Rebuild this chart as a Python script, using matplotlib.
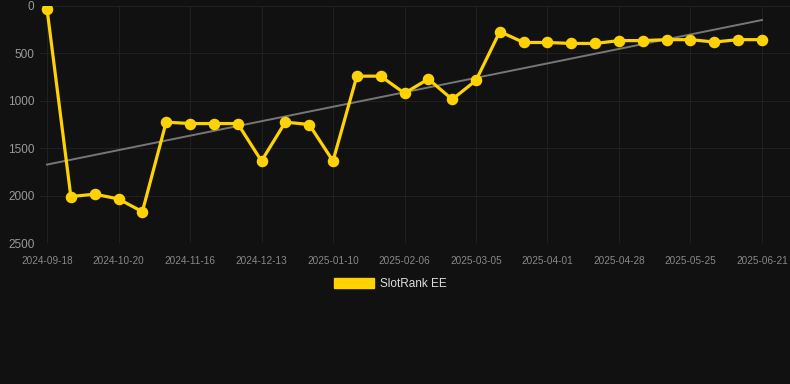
import numpy as np
import matplotlib
matplotlib.use("Agg")
import matplotlib.pyplot as plt
from matplotlib.patches import Patch

plt.rcParams["font.family"] = ["Liberation Sans", "DejaVu Sans"]

tick_labels = ["2024-09-18", "2024-10-20", "2024-11-16", "2024-12-13", "2025-01-10",
               "2025-02-06", "2025-03-05", "2025-04-01", "2025-04-28", "2025-05-25",
               "2025-06-21"]
ranks = [30, 2010, 1985, 2035, 2170, 1225, 1240, 1240, 1240, 1635,
         1225, 1250, 1635, 740, 740, 920, 770, 985, 785, 270,
         385, 385, 395, 395, 365, 365, 355, 355, 380, 355, 355]
series_name = "SlotRank EE"

bg = "#111111"
W, H = 790, 384
fig = plt.figure(figsize=(W / 100, H / 100), dpi=100, facecolor=bg)
ax = fig.add_axes([40 / W, 1 - 243 / H, 750 / W, 237 / H], facecolor=bg)

x = np.arange(len(ranks))
y = np.array(ranks, dtype=float)

# trend line
coef = np.polyfit(x, y, 1)
ax.plot(x, np.polyval(coef, x), color="#777777", lw=1.4, zorder=2)

ax.plot(x, y, color="#FFD200", lw=2.3, marker="o", markersize=7.3,
        markerfacecolor="#FFD200", markeredgecolor="#FFD200", zorder=3)

step = 3
ax.set_xticks(x[::step])
ax.set_xticklabels(tick_labels)
ax.set_xlim(-0.294, 31.175)
ax.set_ylim(2500, 0)
ax.set_yticks([0, 500, 1000, 1500, 2000, 2500])

ax.grid(True, color="#202020", lw=0.8)
ax.set_axisbelow(True)
for s in ax.spines.values():
    s.set_visible(False)
ax.tick_params(axis="x", colors="#888888", labelsize=7.2, length=0, pad=9)
ax.tick_params(axis="y", colors="#999999", labelsize=8.5, length=0, pad=4)

leg = fig.legend(handles=[Patch(facecolor="#FFD200", edgecolor="#FFD200", label=series_name)],
                 loc="center", bbox_to_anchor=(390 / W, 1 - 284 / H), frameon=False,
                 handlelength=3.4, handleheight=1.0, handletextpad=0.5,
                 fontsize=8.5, labelcolor="#dddddd")

fig.savefig("out.png", dpi=100, facecolor=bg)
